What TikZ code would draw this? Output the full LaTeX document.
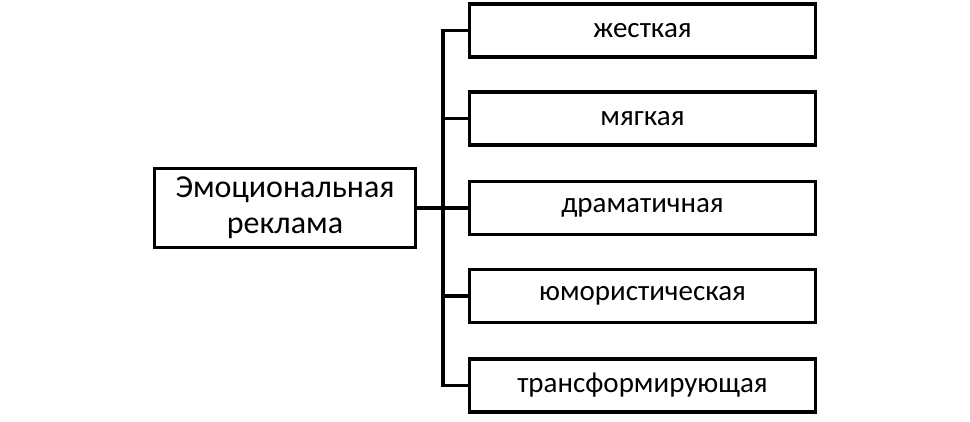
\documentclass[tikz,border=0pt]{standalone}
\usepackage{fontspec}
\setmainfont{Carlito}
\begin{document}
\begin{tikzpicture}[x=1pt,y=-1pt,
  box/.style={draw,line width=3.3pt,minimum width=346pt,minimum height=53pt,inner sep=0pt,font=\fontsize{29}{34}\selectfont},
  root/.style={draw,line width=3.3pt,minimum width=261pt,minimum height=79pt,inner sep=0pt,align=center,font=\fontsize{32}{36}\selectfont},
  conn/.style={line width=3.3pt}]
\useasboundingbox (0,0) rectangle (970,421);
\node[root] (r) at (285,208) {Эмоциональная\\реклама};
\node[box] (b1) at (642.5,30.5) {жесткая};
\node[box] (b2) at (642.5,118.5) {мягкая};
\node[box] (b3) at (642.5,208) {драматичная};
\node[box] (b4) at (642.5,296) {юмористическая};
\node[box] (b5) at (642.5,385.5) {трансформирующая};
\coordinate (t) at (443,30.5);
\coordinate (bt) at (443,385.5);
\draw[conn] (b1.west) -- (t) -- (bt) -- (b5.west);
\draw[conn] (r.east) -- (b3.west);
\draw[conn] (b2.west) -- (b2.west -| t);
\draw[conn] (b4.west) -- (b4.west -| t);
\end{tikzpicture}
\end{document}
